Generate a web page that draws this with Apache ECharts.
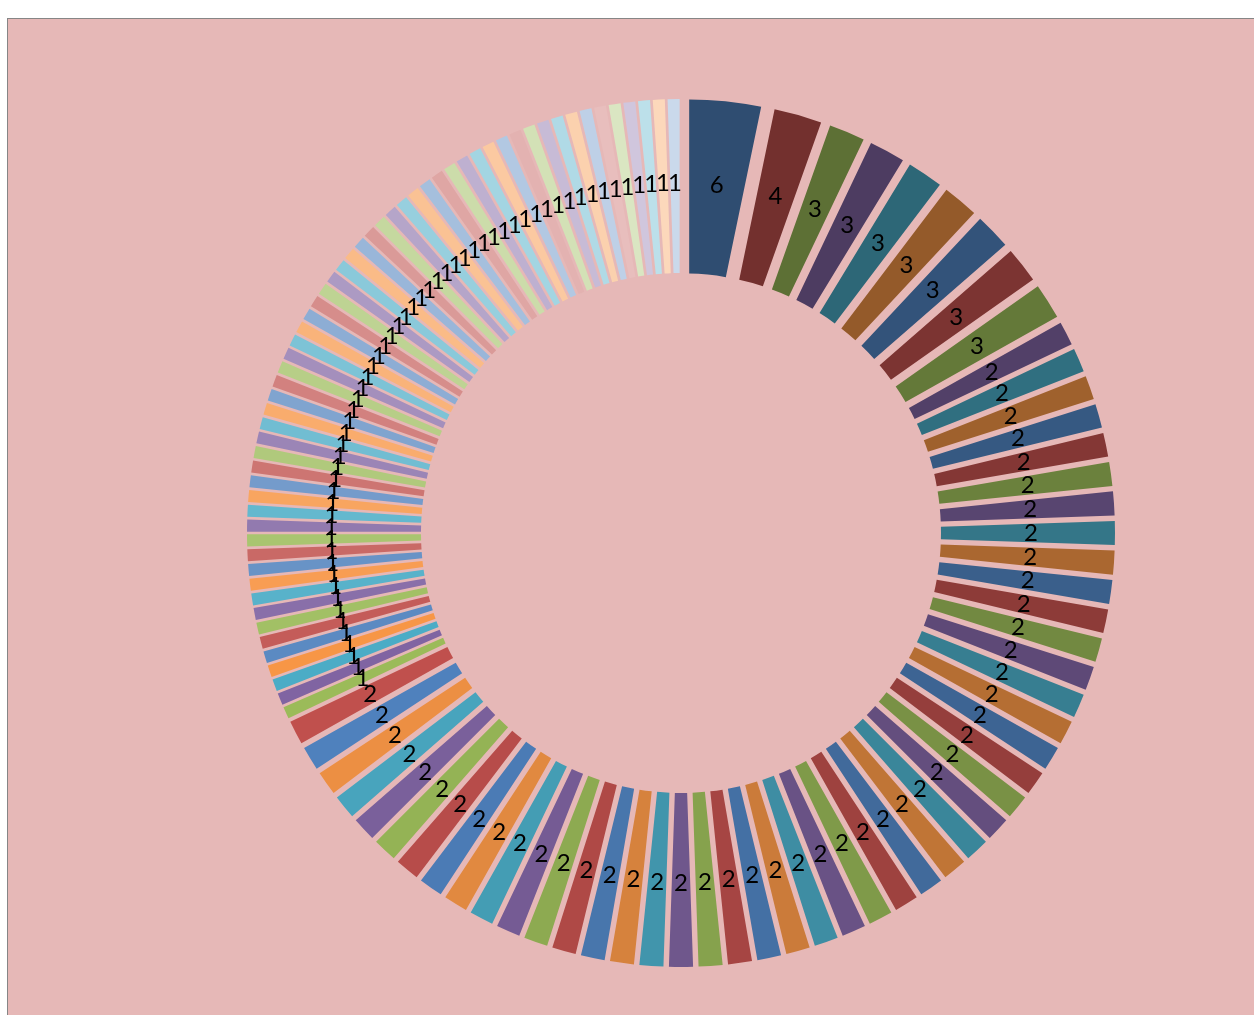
<!DOCTYPE html>
<html>
<head>
<meta charset="utf-8">
<script src="https://cdn.jsdelivr.net/npm/echarts@6/dist/echarts.min.js"></script>
<style>
html,body{margin:0;padding:0;background:#ffffff;width:1254px;height:1015px;overflow:hidden;}
#bg{position:absolute;left:7px;top:18px;width:1300px;height:1100px;background:#E6B8B7;border-left:1px solid #868686;border-top:1px solid #868686;}
#chart{position:absolute;left:0;top:0;width:1254px;height:1015px;}
</style>
</head>
<body>
<div id="bg"></div>
<div id="chart"></div>
<script>
// Slice values, clockwise from 12 o'clock
const values = [
  6, 4, 3, 3, 3, 3, 3, 3, 3,
  2, 2, 2, 2, 2, 2, 2, 2, 2, 2,
  2, 2, 2, 2, 2, 2, 2, 2, 2, 2,
  2, 2, 2, 2, 2, 2, 2, 2, 2, 2,
  2, 2, 2, 2, 2, 2, 2, 2, 2, 2,
  2, 2, 2, 2, 2, 2, 2,
  1, 1, 1, 1, 1, 1, 1, 1, 1, 1,
  1, 1, 1, 1, 1, 1, 1, 1, 1, 1,
  1, 1, 1, 1, 1, 1, 1, 1, 1, 1,
  1, 1, 1, 1, 1, 1, 1, 1, 1, 1,
  1, 1, 1, 1, 1, 1, 1, 1, 1, 1,
  1, 1, 1, 1, 1, 1, 1, 1, 1
];
const categories = values.map((v, i) => 'Item ' + (i + 1));

// Office accent palette, varied dark -> light by cycle
const baseColors = ['#4F81BD', '#C0504D', '#9BBB59', '#8064A2', '#4BACC6', '#F79646'];
function hexToRgb(h){ return [parseInt(h.substr(1,2),16), parseInt(h.substr(3,2),16), parseInt(h.substr(5,2),16)]; }
function variant(hex, cycle){
  const c = hexToRgb(hex);
  let out;
  if (cycle <= 9) {
    const f = 0.6 + 0.4 * cycle / 9;
    out = c.map(x => x * f);
  } else {
    const t = (cycle - 9) / 10 * 0.7;
    out = c.map(x => x + (255 - x) * t);
  }
  return 'rgb(' + out.map(x => Math.round(x)).join(',') + ')';
}

const data = values.map((v, i) => ({
  name: categories[i],
  value: v,
  selected: true,
  itemStyle: { color: variant(baseColors[i % 6], Math.floor(i / 6)) }
}));

const chart = echarts.init(document.getElementById('chart'), null, { renderer: 'canvas' });
chart.setOption({
  animation: false,
  backgroundColor: 'transparent',
  series: [{
    type: 'pie',
    center: [681, 533],
    radius: [180, 354],
    startAngle: 90,
    clockwise: true,
    selectedMode: 'multiple',
    selectedOffset: 80,
    avoidLabelOverlap: false,
    itemStyle: { borderWidth: 0 },
    select: { itemStyle: { borderWidth: 0 }, label: { color: '#000' } },
    emphasis: { disabled: true },
    labelLayout: { hideOverlap: false },
    label: {
      show: true,
      position: 'inside',
      formatter: '{c}',
      color: '#000000',
      fontFamily: 'Lato, "Liberation Sans", sans-serif',
      fontSize: 24
    },
    labelLine: { show: false },
    data: data
  }]
});
</script>
</body>
</html>
